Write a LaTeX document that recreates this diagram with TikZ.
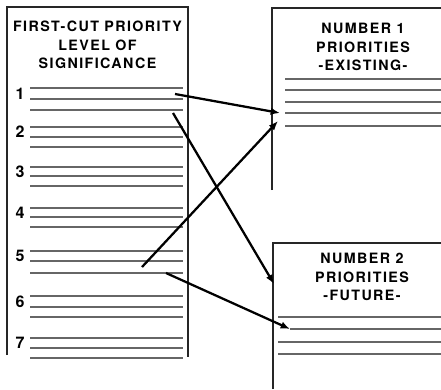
\documentclass[tikz,border=0pt]{standalone}
\usepackage{fontspec}
\setmainfont{TeX Gyre Heros}
\usetikzlibrary{arrows.meta}
\begin{document}
\begin{tikzpicture}[x=0.75pt,y=-0.75pt,
  frame/.style={draw=black!85, line width=1.1pt},
  rule/.style={draw=black!60, line width=1.0pt},
  head/.style={font=\bfseries\fontsize{10.7}{13.9}\selectfont\addfontfeature{LetterSpace=10},
               align=center, inner sep=0pt},
  num/.style={font=\bfseries\fontsize{12}{13}\selectfont, inner sep=0pt},
  link/.style={draw=black, line width=1.7pt, -{Latex[length=7pt,width=5.5pt]}}]
\useasboundingbox (0,0) rectangle (441,389);

% left column: first-cut priority levels
\draw[frame] (7,355) -- (7,7) -- (188,7) -- (188,357);
\node[head] (lhead) at (97.5,45) {FIRST-CUT PRIORITY\\LEVEL OF\\SIGNIFICANCE};

\foreach \n/\a/\b/\c in {1/88/99/110, 2/127/137/147, 3/167/176/186, 4/208/217/227,
                          5/251/261/273, 6/296/307/317, 7/338/348/358} {
  \node[num] (n\n) at (20,{(\a+\b)/2}) {\n};
  \draw[rule] (30,\a) -- (183,\a);
  \draw[rule] (30,\b) -- (183,\b);
  \draw[rule] (30,\c) -- (183,\c);
}

% right column: number 1 priorities
\draw[frame] (272,190) -- (272,8) -- (441,8);
\node[head] (ehead) at (363,47) {NUMBER 1\\PRIORITIES\\-EXISTING-};
\foreach \y in {79,90,102,113,126} \draw[rule] (285,\y) -- (441,\y);

% right column: number 2 priorities
\draw[frame] (273,389) -- (273,243) -- (441,243);
\node[head] (fhead) at (362,277) {NUMBER 2\\PRIORITIES\\-FUTURE-};
\draw[rule] (278,317) -- (441,317);
\draw[rule] (290,329) -- (441,329);
\draw[rule] (278,342) -- (441,342);
\draw[rule] (278,354) -- (441,354);

% arrow end points
\coordinate (s1) at (175,94);
\coordinate (s2) at (173,113);
\coordinate (s5a) at (142,267);
\coordinate (s5b) at (166,273);
\coordinate (t1) at (280,113);
\coordinate (t1b) at (278,121);
\coordinate (t2) at (274,284);
\coordinate (t2b) at (290,329);

\draw[link] (s1) -- (t1);
\draw[link] (s2) -- (t2);
\draw[link] (s5a) -- (t1b);
\draw[link] (s5b) -- (t2b);
\end{tikzpicture}
\end{document}
